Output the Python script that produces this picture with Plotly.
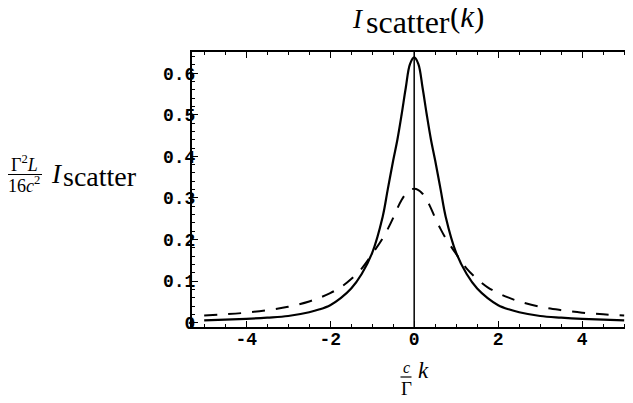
import plotly.graph_objects as go

# ---- data ----
k_vals = [-5, -4.5, -4, -3.5, -3, -2.5, -2.25, -2, -1.75, -1.5, -1.25, -1, -0.75, -0.63, -0.5, -0.4, -0.3, -0.2, -0.1,
          0, 0.1, 0.2, 0.3, 0.4, 0.5, 0.63, 0.75, 1, 1.25, 1.5, 1.75, 2, 2.25, 2.5, 3, 3.5, 4, 4.5, 5]
solid_vals = [0.0055, 0.007, 0.009, 0.012, 0.016, 0.025, 0.032, 0.042, 0.059, 0.082, 0.117, 0.168, 0.255, 0.32, 0.39,
              0.44, 0.5, 0.565, 0.622,
              0.638,
              0.622, 0.565, 0.5, 0.44, 0.39, 0.32, 0.255, 0.168, 0.117, 0.082, 0.059, 0.042, 0.032, 0.025, 0.016,
              0.012, 0.009, 0.007, 0.0055]
dashed_vals = [0.017, 0.02, 0.024, 0.03, 0.038, 0.051, 0.06, 0.071, 0.085, 0.105, 0.13, 0.165, 0.203, 0.225, 0.252,
               0.275, 0.295, 0.31, 0.319,
               0.322,
               0.319, 0.31, 0.295, 0.275, 0.252, 0.225, 0.203, 0.165, 0.13, 0.105, 0.085, 0.071, 0.06, 0.051, 0.038,
               0.03, 0.024, 0.02, 0.017]
x_ticks = [-4, -2, 0, 2, 4]
x_tick_text = ["-4", "-2", "0", "2", "4"]
y_ticks = [0, 0.1, 0.2, 0.3, 0.4, 0.5, 0.6]
y_tick_text = ["0", "0.1", "0.2", "0.3", "0.4", "0.5", "0.6"]

# page geometry (the page body adds an 8px margin around the figure)
PAGE_W, PAGE_H, OFF = 633, 403, 8
L, R, T, B = 192, 633, 52, 327  # plot area in page pixels
W, H = PAGE_W - OFF, PAGE_H - OFF


def px(x):
    return (x - L) / (R - L)


def py(y):
    return (B - y) / (B - T)


fig = go.Figure()
fig.add_trace(go.Scatter(x=k_vals, y=dashed_vals, mode="lines", line_shape="spline",
                         line=dict(color="black", width=2, dash="13px,11px"), showlegend=False))
fig.add_trace(go.Scatter(x=k_vals, y=solid_vals, mode="lines", line_shape="spline",
                         line=dict(color="black", width=2.2), showlegend=False))

serif = "Liberation Serif"
mono = "Liberation Mono"


def txt(s, x, base, size, anchor="left", italic=False):
    fig.add_annotation(text=s, xref="paper", yref="paper", x=px(x), y=py(base - 0.3375 * size),
                       xanchor=anchor, yanchor="middle", showarrow=False, borderpad=0,
                       font=dict(family=serif, size=size, color="black", style="italic" if italic else "normal"))


# title  I_scatter(k)
txt("I", 351, 28, 27, italic=True)
txt("scatter", 365, 33, 32)
txt("(<i>k</i>)", 449, 27, 31)

# y label  (Γ²L / 16c²) I_scatter
txt("Γ<sup>2</sup><i>L</i>", 24, 170, 18, anchor="center")
txt("16<i>c</i><sup>2</sup>", 24, 191, 18, anchor="center")
fig.add_shape(type="line", xref="paper", yref="paper", x0=px(7), x1=px(42), y0=py(174.5), y1=py(174.5),
              line=dict(color="black", width=1.2))
txt("I", 50, 183, 27, italic=True)
txt("scatter", 62, 186, 28)

# x label  (c / Γ) k
txt("<i>c</i>", 406, 373, 16, anchor="center")
fig.add_shape(type="line", xref="paper", yref="paper", x0=px(400.5), x1=px(411.5), y0=py(377), y1=py(377),
              line=dict(color="black", width=1.2))
txt("Γ", 406, 395, 19, anchor="center")
txt("<i>k</i>", 417, 378, 23, italic=True)

# vertical axis at k = 0
fig.add_shape(type="line", xref="x", yref="paper", x0=0, x1=0, y0=0, y1=1,
              line=dict(color="black", width=1.5))

fig.update_layout(
    width=W, height=H, margin=dict(l=L - OFF, r=PAGE_W - R, t=T - OFF, b=PAGE_H - B),
    plot_bgcolor="white", paper_bgcolor="white",
)
fig.update_xaxes(range=[-5.29, 5.21], showgrid=False, zeroline=False, showline=True, linewidth=2,
                 linecolor="black", mirror="ticks", ticks="inside", ticklen=6, tickwidth=1.2, tickcolor="black",
                 tickvals=x_ticks, ticktext=x_tick_text, ticklabelstandoff=-6,
                 tickfont=dict(family=mono, size=18, color="black", weight="bold"),
                 minor=dict(dtick=0.5, tick0=0, ticks="inside", ticklen=3, tickcolor="black", tickwidth=1))
fig.update_yaxes(range=[-0.0105, 0.651], showgrid=False, zeroline=False, showline=True, linewidth=2,
                 linecolor="black", mirror=False, ticks="inside", ticklen=6, tickwidth=1.2, tickcolor="black",
                 tickvals=y_ticks, ticktext=y_tick_text, ticklabelstandoff=-9,
                 tickfont=dict(family=mono, size=18, color="black", weight="bold"),
                 minor=dict(dtick=0.02, tick0=0, ticks="inside", ticklen=3, tickcolor="black", tickwidth=1))

fig.write_html("out.html")
